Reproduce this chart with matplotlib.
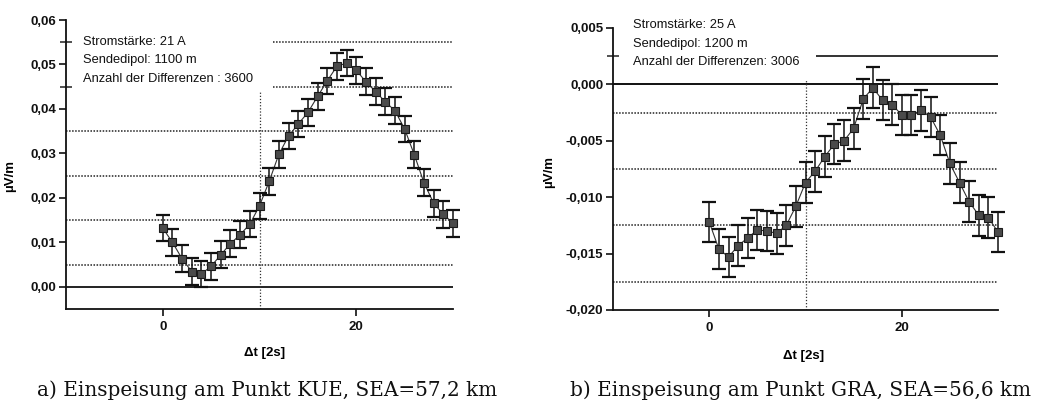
import numpy as np
import matplotlib
matplotlib.use("Agg")
import matplotlib.pyplot as plt
from matplotlib.ticker import FuncFormatter

plt.rcParams['font.family'] = ['Liberation Sans', 'DejaVu Sans']

# === Data: panel a (KUE) ===
dt = list(range(0, 31))
kue_val = [0.0132, 0.0100, 0.0063, 0.0034, 0.0029, 0.0046, 0.0072, 0.0097, 0.0117, 0.0141,
           0.0182, 0.0237, 0.0298, 0.0339, 0.0366, 0.0392, 0.0428, 0.0463, 0.0496, 0.0503,
           0.0487, 0.0461, 0.0439, 0.0416, 0.0396, 0.0355, 0.0297, 0.0234, 0.0188, 0.0163,
           0.0143]
kue_err = [0.003] * 31

# === Data: panel b (GRA) ===
gra_val = [-0.0122, -0.0146, -0.0153, -0.0143, -0.0136, -0.0129, -0.0130, -0.0132, -0.0125, -0.0108,
           -0.0087, -0.0077, -0.0064, -0.0053, -0.0050, -0.0039, -0.0013, -0.0003, -0.0014, -0.0018,
           -0.0027, -0.0027, -0.0023, -0.0029, -0.0045, -0.0070, -0.0087, -0.0104, -0.0116, -0.0118,
           -0.0131]
gra_err = [0.0018] * 31

kue_text = ["Stromstärke: 21 A", "Sendedipol: 1100 m", "Anzahl der Differenzen : 3600"]
gra_text = ["Stromstärke: 25 A", "Sendedipol: 1200 m", "Anzahl der Differenzen: 3006"]
caption_a = "a) Einspeisung am Punkt KUE, SEA=57,2 km"
caption_b = "b) Einspeisung am Punkt GRA, SEA=56,6 km"

W, H = 1039, 403
fig = plt.figure(figsize=(W / 100, H / 100), dpi=100)

def px_axes(x0, y_top, x1, y_bot):
    return fig.add_axes([x0 / W, 1 - y_bot / H, (x1 - x0) / W, (y_bot - y_top) / H])

axA = px_axes(66, 20, 453, 309)
axB = px_axes(613, 28, 998, 310)


def comma_fmt(decimals):
    return FuncFormatter(lambda v, p: f"{v:.{decimals}f}".replace('.', ',').replace('-0,000', '0,000'))


def style_axes(ax, ylim, yticks, ylabel_xy, xlabel_xy, dec):
    ax.set_xlim(-10, 30)
    ax.set_ylim(*ylim)
    for s in ['top', 'right']:
        ax.spines[s].set_visible(False)
    for s in ['left', 'bottom']:
        ax.spines[s].set_linewidth(1.3)
        ax.spines[s].set_color('#111111')
    ax.set_xticks([0, 20])
    ax.set_yticks(yticks)
    ax.yaxis.set_major_formatter(comma_fmt(dec))
    ax.tick_params(axis='both', direction='out', length=5, width=1.2, colors='#111111',
                   labelsize=9.5)
    ax.tick_params(axis='y', pad=2)
    for lab in ax.get_xticklabels() + ax.get_yticklabels():
        lab.set_fontweight('bold')
    ax.set_ylabel("µV/m", fontsize=9.5, fontweight='bold')
    ax.yaxis.set_label_coords(*ylabel_xy)
    ax.set_xlabel("Δt [2s]", fontsize=9.5, fontweight='bold')
    ax.xaxis.set_label_coords(*xlabel_xy)


def draw_series(ax, x, y, e):
    ax.plot(x, y, color='#333333', lw=0.8, zorder=3, clip_on=False)
    ax.errorbar(x, y, yerr=e, fmt='none', ecolor='#111111', elinewidth=1.1,
                capsize=5, capthick=1.6, zorder=4, clip_on=False)
    ax.plot(x, y, 's', ms=5.5, mfc='#4a4a4a', mec='#1a1a1a', mew=0.8, zorder=5, clip_on=False)


# --- panel a ---
style_axes(axA, (-0.005, 0.06), [0.0, 0.01, 0.02, 0.03, 0.04, 0.05, 0.06],
           (-0.13, 0.46), (0.514, -0.13), 2)
for yv in [0.005, 0.015, 0.025, 0.035]:
    axA.axhline(yv, color='#222222', lw=1.1, ls=(0, (1, 1)), zorder=1)
for yv in [0.045, 0.055]:
    axA.hlines(yv, 11.4, 30, color='#222222', lw=1.1, ls=(0, (1, 1)), zorder=1)
    axA.plot([-10], [yv], marker='_', ms=8, mew=1.1, color='#222222', clip_on=False)
axA.axhline(0.0, color='#111111', lw=1.3, zorder=1)
axA.vlines(10, -0.005, 0.044, color='#333333', lw=0.9, ls=(0, (1, 1.5)), zorder=1)
draw_series(axA, dt, kue_val, kue_err)
for i, t in enumerate(kue_text):
    axA.text((83 - 66) / 387, 1 - (42 + 18.5 * i - 20) / 289, t, transform=axA.transAxes,
             fontsize=9.3, va='center', ha='left', color='#111111')

# --- panel b ---
style_axes(axB, (-0.02, 0.005), [-0.02, -0.015, -0.01, -0.005, 0.0, 0.005],
           (-0.15, 0.49), (0.496, -0.142), 3)
for yv in [-0.0025, -0.0075, -0.0125, -0.0175]:
    axB.axhline(yv, color='#222222', lw=1.1, ls=(0, (1, 1)), zorder=1)
axB.hlines(0.0025, 11.1, 30, color='#111111', lw=1.2, zorder=1)
axB.plot([-10], [0.0025], marker='_', ms=8, mew=1.1, color='#222222', clip_on=False)
axB.axhline(0.0, color='#111111', lw=1.4, zorder=1)
axB.vlines(10, -0.02, 0.0005, color='#333333', lw=0.9, ls=(0, (1, 1.5)), zorder=1)
draw_series(axB, dt, gra_val, gra_err)
for i, t in enumerate(gra_text):
    axB.text((633 - 613) / 385, 1 - (25 + 18.5 * i - 28) / 282, t, transform=axB.transAxes,
             fontsize=9.3, va='center', ha='left', color='#111111')

# --- captions ---
fig.text(37 / W, 1 - 396 / H, caption_a, family=['DejaVu Serif'],
         fontsize=14.4, ha='left', va='baseline', color='#111111')
fig.text(570 / W, 1 - 396 / H, caption_b, family=['DejaVu Serif'],
         fontsize=14.4, ha='left', va='baseline', color='#111111')

fig.savefig("out.png", dpi=100)
